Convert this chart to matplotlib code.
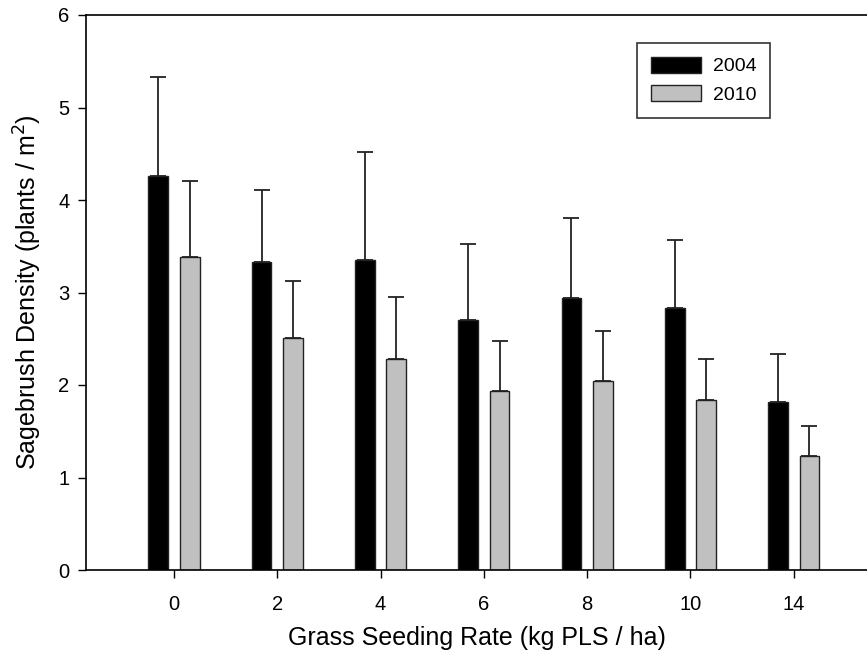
import numpy as np
import matplotlib
matplotlib.use("Agg")
import matplotlib.pyplot as plt

plt.rcParams['font.family'] = ['Liberation Sans', 'DejaVu Sans']

# seeding rates (kg PLS / ha)
rates = ["0", "2", "4", "6", "8", "10", "14"]

# sagebrush density, plants / m2
mean_2004 = [4.26, 3.33, 3.35, 2.70, 2.94, 2.83, 1.82]
err_2004 = [1.07, 0.78, 1.17, 0.82, 0.87, 0.74, 0.52]
mean_2010 = [3.38, 2.51, 2.28, 1.93, 2.04, 1.84, 1.23]
err_2010 = [0.83, 0.61, 0.67, 0.55, 0.54, 0.44, 0.33]

def main():
    fig = plt.figure(figsize=(8.67, 6.57), dpi=100)
    ax = fig.add_axes([86/867, 1-570/657, 1-86/867, (570-15)/657])

    x = np.arange(len(rates))
    w = 0.19
    off = 0.152

    ax.bar(x - off, mean_2004, w, color='black', edgecolor='#222222',
           linewidth=1, label='2004', zorder=2)
    ax.bar(x + off, mean_2010, w, color='#c0c0c0', edgecolor='#222222',
           linewidth=1, label='2010', zorder=2)

    # upper error bars only
    ax.errorbar(x - off, mean_2004, yerr=[np.zeros(len(x)), err_2004],
                fmt='none', ecolor='#222222', elinewidth=1.3, capsize=6,
                capthick=1.3, zorder=1)
    ax.errorbar(x + off, mean_2010, yerr=[np.zeros(len(x)), err_2010],
                fmt='none', ecolor='#222222', elinewidth=1.3, capsize=6,
                capthick=1.3, zorder=1)

    ax.set_xlim(-0.852, 6.709)
    ax.set_ylim(0, 6)
    ax.set_xticks(x)
    ax.set_xticklabels(rates)
    ax.set_yticks(range(7))
    ax.tick_params(direction='out', length=6, width=1, labelsize=14.5)
    ax.tick_params(axis='x', pad=12)
    ax.tick_params(axis='y', pad=6)

    ax.spines['right'].set_visible(False)
    for s in ['left', 'top', 'bottom']:
        ax.spines[s].set_linewidth(1.2)

    ax.set_xlabel('Grass Seeding Rate (kg PLS / ha)', fontsize=18, labelpad=9)
    ax.set_ylabel('Sagebrush Density (plants / m$^2$)', fontsize=18, labelpad=10)

    leg = ax.legend(loc='upper left', bbox_to_anchor=(637/867, 1-43/657),
                    bbox_transform=fig.transFigure, fontsize=14,
                    frameon=True, fancybox=False, handlelength=2.6,
                    handleheight=0.9, handletextpad=0.6, labelspacing=0.5,
                    borderpad=0.7, borderaxespad=0)
    leg.get_frame().set_edgecolor('black')
    leg.get_frame().set_linewidth(1.2)

    fig.savefig('out.png', dpi=100)

if __name__ == "__main__":
    main()
